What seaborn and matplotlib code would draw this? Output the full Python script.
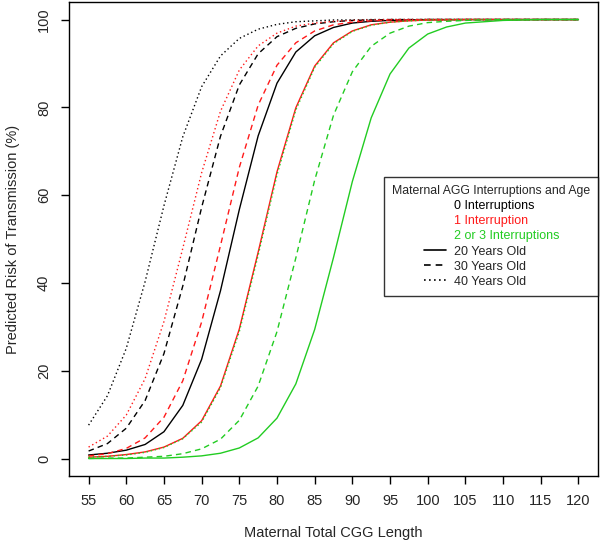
import pandas as pd
import numpy as np
import matplotlib
matplotlib.use("Agg")
import matplotlib.pyplot as plt
from matplotlib.lines import Line2D
from matplotlib.legend_handler import HandlerLine2D
import seaborn as sns

# valores (risco previsto, %)
cgg_length = [55, 57.5, 60, 62.5, 65, 67.5, 70, 72.5, 75, 77.5, 80, 82.5,
              85, 87.5, 90, 92.5, 95, 97.5, 100, 102.5, 105, 110, 115, 120]

risk_0int_20 = [0.8, 1.2, 1.9, 3.2, 6.1, 12.1, 22.6, 38.2, 56.7, 73.5, 85.5, 92.6,
                96.3, 98.2, 99.2, 99.6, 99.8, 99.9, 100, 100, 100, 100, 100, 100]
risk_0int_30 = [1.7, 3.4, 6.9, 13.2, 23.9, 39.3, 57.2, 73.4, 85.1, 92.2, 96.1, 98.0,
                99.0, 99.5, 99.8, 99.9, 100, 100, 100, 100, 100, 100, 100, 100]
risk_0int_40 = [7.6, 14.3, 25.1, 40.3, 57.6, 73.3, 84.7, 91.7, 95.7, 97.8, 98.9, 99.5,
                99.7, 99.9, 99.9, 100, 100, 100, 100, 100, 100, 100, 100, 100]
risk_1int_20 = [0.3, 0.5, 0.9, 1.5, 2.6, 4.6, 8.6, 16.5, 29.5, 47.0, 65.3, 79.9,
                89.4, 94.7, 97.4, 98.8, 99.4, 99.7, 99.9, 99.9, 100, 100, 100, 100]
risk_1int_30 = [0.6, 1.1, 2.3, 4.7, 9.4, 17.7, 31.1, 48.5, 66.3, 80.5, 89.6, 94.7,
                97.4, 98.8, 99.4, 99.7, 99.9, 99.9, 100, 100, 100, 100, 100, 100]
risk_1int_40 = [2.6, 5.1, 9.9, 18.2, 31.2, 47.9, 65.1, 79.1, 88.5, 94.0, 96.9, 98.5,
                99.2, 99.6, 99.8, 99.9, 100, 100, 100, 100, 100, 100, 100, 100]
risk_23int_20 = [0.0, 0.0, 0.0, 0.1, 0.1, 0.3, 0.6, 1.2, 2.4, 4.7, 9.2, 17.0,
                 29.4, 45.8, 63.1, 77.6, 87.6, 93.5, 96.7, 98.3, 99.2, 99.8, 100, 100]
risk_23int_30 = [0.0, 0.1, 0.1, 0.3, 0.5, 1.1, 2.2, 4.4, 8.7, 16.5, 28.9, 45.7,
                 63.4, 78.2, 88.1, 93.9, 96.9, 98.5, 99.3, 99.6, 99.8, 100, 100, 100]
risk_23int_40 = [0.3, 0.5, 0.8, 1.4, 2.5, 4.5, 8.3, 16.1, 28.9, 46.3, 64.6, 79.4,
                 89.1, 94.5, 97.3, 98.7, 99.4, 99.7, 99.9, 99.9, 100, 100, 100, 100]

interr_labels = ['0 Interruptions', '1 Interruption', '2 or 3 Interruptions']
age_labels = ['20 Years Old', '30 Years Old', '40 Years Old']

series = {
    ('0 Interruptions', '20 Years Old'): risk_0int_20,
    ('0 Interruptions', '30 Years Old'): risk_0int_30,
    ('0 Interruptions', '40 Years Old'): risk_0int_40,
    ('1 Interruption', '20 Years Old'): risk_1int_20,
    ('1 Interruption', '30 Years Old'): risk_1int_30,
    ('1 Interruption', '40 Years Old'): risk_1int_40,
    ('2 or 3 Interruptions', '20 Years Old'): risk_23int_20,
    ('2 or 3 Interruptions', '30 Years Old'): risk_23int_30,
    ('2 or 3 Interruptions', '40 Years Old'): risk_23int_40,
}

rows = []
for (interr, age), vals in series.items():
    for x, y in zip(cgg_length, vals):
        rows.append({'cgg': x, 'risk': y, 'interr': interr, 'age': age})
df = pd.DataFrame(rows)

cores = {'0 Interruptions': 'black', '1 Interruption': '#ff1a1a',
         '2 or 3 Interruptions': '#22cc22'}
tracos = {'20 Years Old': '', '30 Years Old': (4, 3), '40 Years Old': (1, 2)}


class LinhaDireita(HandlerLine2D):
    # desenha a amostra so na parte direita da caixa, como no R
    def create_artists(self, legend, orig_handle, xdescent, ydescent,
                       width, height, fontsize, trans):
        arts = super().create_artists(legend, orig_handle, xdescent, ydescent,
                                      width, height, fontsize, trans)
        for a in arts:
            xd = np.asarray(a.get_xdata(), float)
            if len(xd) > 1:
                ini = xd[0] + 0.6 * (xd[-1] - xd[0])
                a.set_xdata(np.linspace(ini, xd[-1], len(xd)))
        return arts


sns.set_style("white")
plt.rcParams['font.family'] = ['Liberation Sans', 'DejaVu Sans']

fig = plt.figure(figsize=(6, 5.51), dpi=100)
ax = fig.add_axes([0.115, 0.136, 0.8817, 0.8604])

for interr in interr_labels:
    sub = df[df['interr'] == interr]
    sns.lineplot(data=sub, x='cgg', y='risk', style='age', dashes=tracos,
                 color=cores[interr], linewidth=1, legend=False, ax=ax,
                 estimator=None, sort=True)

ax.set_xlim(52.4, 122.6)
ax.set_ylim(-4, 104)
ax.set_xticks(np.arange(55, 121, 5))
ax.set_yticks([0, 20, 40, 60, 80, 100])
for sp in ax.spines.values():
    sp.set_color('black')
    sp.set_linewidth(1)
ax.tick_params(axis='both', direction='out', length=6, width=1, color='black',
               labelsize=10.5, pad=7, bottom=True, left=True)
for t in ax.get_yticklabels():
    t.set_rotation(90)
    t.set_va('center')
ax.set_xlabel('Maternal Total CGG Length', fontsize=10.5, labelpad=13)
ax.set_ylabel('Predicted Risk of Transmission (%)', fontsize=10.5, labelpad=12)

handles = [Line2D([], [], color='none') for _ in interr_labels]
handles += [Line2D([], [], color='black', lw=1.2, linestyle='-'),
            Line2D([], [], color='black', lw=1.2, dashes=(4, 3)),
            Line2D([], [], color='black', lw=1.2, dashes=(1, 2))]
leg = ax.legend(handles, interr_labels + age_labels,
                title='Maternal AGG Interruptions and Age',
                loc='upper right', bbox_to_anchor=(1.0, 0.631),
                borderaxespad=0, fontsize=9, title_fontsize=8.8,
                handlelength=4.3, handletextpad=0.7, labelspacing=0.25,
                frameon=True, fancybox=False, borderpad=0.65,
                handler_map={Line2D: LinhaDireita()})
leg._legend_box.align = 'left'
leg.get_frame().set_edgecolor('black')
leg.get_frame().set_linewidth(1)
for txt, interr in zip(leg.get_texts()[:3], interr_labels):
    txt.set_color(cores[interr])

fig.savefig('out.png', dpi=100)
